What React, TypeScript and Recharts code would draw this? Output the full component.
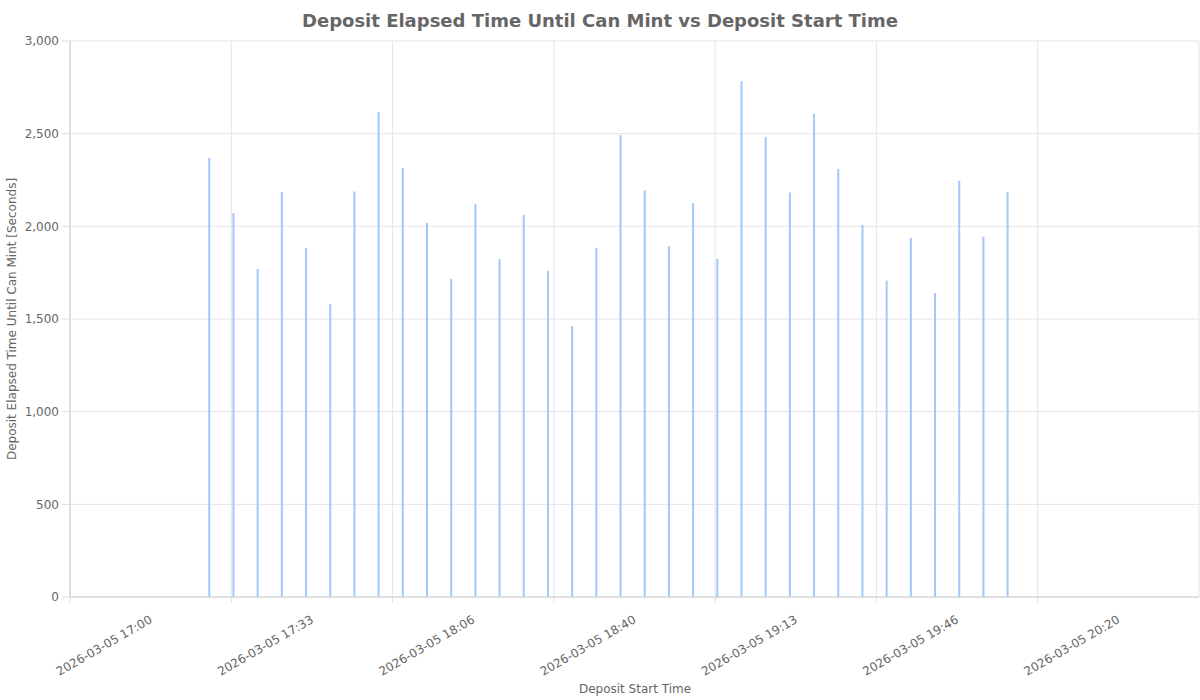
import React from "react";
import { BarChart, Bar, XAxis, YAxis, CartesianGrid } from "recharts";

const depositStartTimes: string[] = [
  "17:28:48", "17:33:48", "17:38:48", "17:43:48", "17:48:48", "17:53:48", "17:58:48",
  "18:03:48", "18:08:48", "18:13:48", "18:18:48", "18:23:48", "18:28:48", "18:33:48",
  "18:38:48", "18:43:48", "18:48:48", "18:53:48", "18:58:48", "19:03:48", "19:08:48",
  "19:13:48", "19:18:48", "19:23:48", "19:28:48", "19:33:48", "19:38:48", "19:43:48",
  "19:48:48", "19:53:48", "19:58:48", "20:03:48", "20:08:48", "20:13:48",
];

const elapsedSeconds: number[] = [
  2370, 2072, 1770, 2185, 1883, 1581, 2188, 2617, 2315, 2018, 1716, 2121, 1824, 2061,
  1759, 1462, 1885, 2493, 2193, 1892, 2124, 1824, 2784, 2482, 2182, 2608, 2309, 2007,
  1708, 1938, 1640, 2246, 1944, 2185,
];

const DATE = "2026-03-05";
const xTickLabels: string[] = ["17:00:00", "17:33:20", "18:06:40", "18:40:00", "19:13:20", "19:46:40", "20:20:00"];
const xDomainEnd = "20:53:20";
const yTicks: number[] = [0, 500, 1000, 1500, 2000, 2500, 3000];

const toSec = (t: string) => {
  const [h, m, s] = t.split(":").map(Number);
  return h * 3600 + m * 60 + s;
};

const data = depositStartTimes.map((t, i) => ({ t: toSec(t), v: elapsedSeconds[i] }));
const xTicks = xTickLabels.map(toSec);

const fmtTime = (sec: number) => {
  const h = Math.floor(sec / 3600);
  const m = Math.floor((sec % 3600) / 60);
  return `${DATE} ${String(h).padStart(2, "0")}:${String(m).padStart(2, "0")}`;
};

const FONT = "'DejaVu Sans', sans-serif";
const TEXT = "#666666";

const XTick = (props: any) => {
  const { x, y, payload } = props;
  const ax = x + 83;
  const ay = y + 17;
  return (
    <text
      x={ax}
      y={ay}
      textAnchor="end"
      fill={TEXT}
      fontSize={12}
      fontFamily={FONT}
      transform={`rotate(-30, ${ax}, ${ay})`}
    >
      {fmtTime(payload.value)}
    </text>
  );
};

export default function App() {
  return (
    <div style={{ position: "absolute", left: 0, top: 0, width: 1200, height: 700, fontFamily: FONT, background: "#fff" }}>
      <BarChart
        width={1200}
        height={700}
        data={data}
        margin={{ top: 41, right: 1, left: 0, bottom: 0 }}
      >
        <CartesianGrid stroke="#e5e5e5" ticks={xTicks as any} />
        <XAxis
          dataKey="t"
          type="number"
          domain={[xTicks[0], toSec(xDomainEnd)]}
          ticks={xTicks}
          interval={0}
          height={103}
          tick={<XTick />}
          tickSize={6}
          tickMargin={2}
          axisLine={{ stroke: "#cccccc" }}
          tickLine={{ stroke: "#dddddd" }}
          allowDataOverflow
        />
        <YAxis
          type="number"
          domain={[0, 3000]}
          ticks={yTicks}
          interval={0}
          width={70}
          tickSize={8}
          tickMargin={3}
          tickFormatter={(v: number) => v.toLocaleString("en-US")}
          tick={{ fill: TEXT, fontSize: 12, fontFamily: FONT }}
          axisLine={{ stroke: "#cccccc" }}
          tickLine={{ stroke: "#dddddd" }}
        />
        <Bar dataKey="v" fill="#a0c8f8" barSize={2} isAnimationActive={false} />
      </BarChart>
      <svg width={1200} height={700} style={{ position: "absolute", left: 0, top: 0, pointerEvents: "none" }}>
        <text x={600} y={20} textAnchor="middle" dominantBaseline="central" fontSize={18} fontWeight="bold" fill={TEXT} fontFamily={FONT}>
          Deposit Elapsed Time Until Can Mint vs Deposit Start Time
        </text>
        <text x={635} y={689} textAnchor="middle" dominantBaseline="central" fontSize={12} fill={TEXT} fontFamily={FONT}>
          Deposit Start Time
        </text>
        <text x={12} y={319} textAnchor="middle" dominantBaseline="central" fontSize={12} fill={TEXT} fontFamily={FONT} transform="rotate(-90, 12, 319)">
          Deposit Elapsed Time Until Can Mint [Seconds]
        </text>
      </svg>
    </div>
  );
}
